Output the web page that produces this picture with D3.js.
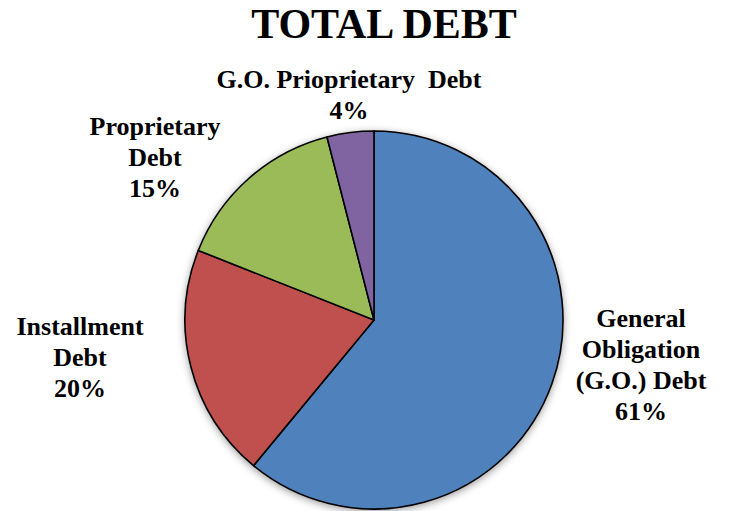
<!DOCTYPE html>
<html>
<head>
<meta charset="utf-8">
<script src="https://cdn.jsdelivr.net/npm/d3@7"></script>
<style>
  html, body { margin: 0; padding: 0; background: #fff; }
  svg { display: block; }
  text { font-family: "Liberation Serif", "Times New Roman", serif; font-weight: bold; fill: #000; }
</style>
</head>
<body>
<svg id="chart" width="729" height="511"></svg>
<script>
// Debt composition shares (percent)
const categories = [
  ["General", "Obligation", "(G.O.) Debt"],
  ["Installment", "Debt"],
  ["Proprietary", "Debt"],
  ["G.O. Prioprietary\u00a0 Debt"]
];
const values = [61, 20, 15, 4];
const colors = ["#4F81BD", "#C0504D", "#9BBB59", "#8064A2"];

// label anchor (center x, first baseline y) for each slice
const labelPos = [[641, 327], [80, 335], [155, 135], [349, 88]];

const svg = d3.select("#chart");
const cx = 374, cy = 320, r = 189;

const defs = svg.append("defs");
const f = defs.append("filter").attr("id", "shadow")
  .attr("x", "-20%").attr("y", "-20%").attr("width", "140%").attr("height", "140%");
f.append("feDropShadow").attr("dx", 0).attr("dy", 2)
  .attr("stdDeviation", 4).attr("flood-color", "#000").attr("flood-opacity", 0.45);

svg.append("text")
  .attr("x", 384).attr("y", 38)
  .attr("text-anchor", "middle")
  .style("font-size", "42px")
  .text("TOTAL DEBT");

const pie = d3.pie().sort(null).value(d => d)(values);
const arc = d3.arc().innerRadius(0).outerRadius(r);

const g = svg.append("g").attr("transform", `translate(${cx},${cy})`);
g.append("circle").attr("r", r).attr("fill", "#fff").attr("filter", "url(#shadow)");
g.selectAll("path.slice").data(pie).join("path")
  .attr("class", "slice")
  .attr("d", arc)
  .attr("fill", (d, i) => colors[i])
  .attr("stroke", "#000")
  .attr("stroke-width", 1.6)
  .attr("stroke-linejoin", "round");

const lineH = 31;
categories.forEach((lines, i) => {
  const [x, y] = labelPos[i];
  const t = svg.append("text")
    .attr("text-anchor", "middle")
    .style("font-size", "26px");
  const all = lines.concat([values[i] + "%"]);
  all.forEach((s, k) => {
    t.append("tspan").attr("x", x).attr("y", y + k * lineH).text(s);
  });
});
</script>
</body>
</html>
